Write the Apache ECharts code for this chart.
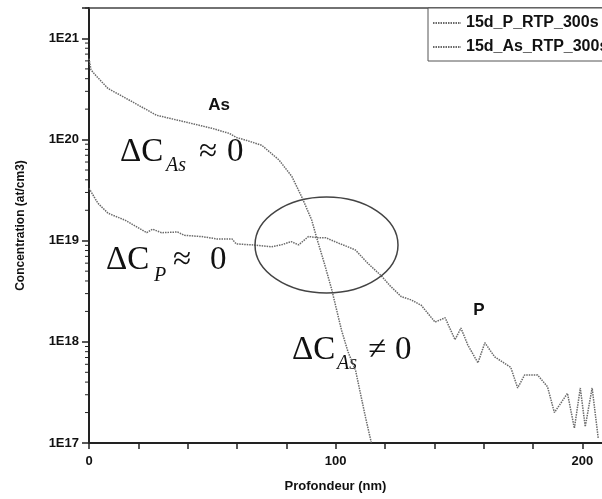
<!DOCTYPE html>
<html>
<head>
<meta charset="utf-8">
<script src="https://cdn.jsdelivr.net/npm/echarts@6/dist/echarts.min.js"></script>
<style>
  html, body { margin: 0; padding: 0; background: #fff; }
  #chart { width: 602px; height: 499px; }
</style>
</head>
<body>
<div id="chart"></div>
<script>
// profils SIMS
var seriesNames = ['15d_P_RTP_300s', '15d_As_RTP_300s'];

var pDepth = [0, 3.6, 7.7, 14.5, 23.4, 25.8, 29.4, 35.9, 38.7, 45.6, 52, 58, 59.7, 66, 74, 78, 82, 85, 89, 93, 96,
  101, 105, 108, 113, 118.5, 122, 126.6, 130.6, 134.7, 140.3, 144.4, 148.4, 150.8, 153.6, 157.7, 160.5, 164.5,
  171, 173.8, 176.6, 181.9, 185.9, 188.7, 194, 196.8, 199.2, 201.2, 204, 206.5];
var pConc = [3.3e19, 2.35e19, 1.87e19, 1.6e19, 1.2e19, 1.3e19, 1.2e19, 1.22e19, 1.13e19, 1.1e19, 1.04e19, 1.04e19, 9.3e18,
  9.1e18, 8.7e18, 9.1e18, 9.8e18, 9.1e18, 1.1e19, 1.07e19, 1.07e19,
  9.5e18, 8.7e18, 8.1e18, 6e18, 4.5e18, 3.6e18, 2.8e18, 2.6e18, 2.3e18, 1.57e18, 1.73e18, 1.05e18, 1.37e18, 9.3e17, 6.2e17, 9.8e17, 7.1e17,
  5.6e17, 3.5e17, 4.7e17, 4.7e17, 3.6e17, 2e17, 3.1e17, 1.4e17, 3.5e17, 1.45e17, 3.5e17, 1.1e17];

var asDepth = [0, 0.8, 2.4, 4.4, 7.7, 14.5, 27.4, 38.7, 50, 56.9, 59.7, 64, 70, 77, 82.3, 86.3, 90.3, 92.3, 95.4,
  98.4, 102.4, 105, 108.1, 112.1, 114.5];
var asConc = [6.3e20, 4.9e20, 4.4e20, 3.9e20, 3.2e20, 2.6e20, 1.74e20, 1.5e20, 1.29e20, 1.15e20, 1.05e20, 9.8e19, 8.8e19, 6.3e19,
  4.3e19, 2.7e19, 1.6e19, 1.07e19, 6e18, 3.3e18, 1.3e18, 8e17, 5.2e17, 1.8e17, 1e17];

var xTickLabels = [0, 100, 200];

function pairs(xs, ys) {
  var out = [];
  for (var i = 0; i < xs.length; i++) {
    out.push([xs[i], ys[i]]);
  }
  return out;
}

// petites graduations logarithmiques (2..9 par decade)
var minorTicks = [];
for (var e = 17; e <= 21; e++) {
  for (var m = 2; m <= 9; m++) {
    var v = m * Math.pow(10, e);
    if (v <= 2e21) minorTicks.push([0, v]);
  }
}

var lineColor = '#6a6a6a';
var serif = '"Liberation Serif", "DejaVu Serif", serif';
var sans = '"Liberation Sans", Arial, sans-serif';

var option = {
  animation: false,
  textStyle: { fontFamily: sans },
  grid: { left: 89, top: 8, right: 0, bottom: 56, containLabel: false },
  legend: {
    orient: 'vertical',
    left: 428,
    top: 8,
    data: seriesNames,
    itemWidth: 28,
    itemHeight: 10,
    itemGap: 8,
    padding: [7, 6, 6, 4],
    borderColor: '#555',
    borderWidth: 1,
    backgroundColor: '#fff',
    itemStyle: { color: 'rgba(0,0,0,0)', borderWidth: 0 },
    textStyle: { fontFamily: sans, fontWeight: 'bold', fontSize: 16, color: '#111' }
  },
  xAxis: [{
    type: 'value',
    min: 0,
    max: 208,
    interval: 20,
    name: 'Profondeur (nm)',
    nameLocation: 'middle',
    nameGap: 37,
    nameTextStyle: { fontWeight: 'bold', fontSize: 13, color: '#111', padding: [0, 20, 0, 0] },
    axisLine: { lineStyle: { color: '#222', width: 2 } },
    axisTick: { inside: false, length: 6, lineStyle: { color: '#222', width: 1.5 } },
    axisLabel: {
      fontWeight: 'bold', fontSize: 13, color: '#111', margin: 12,
      showMaxLabel: false,
      formatter: function (v) { return xTickLabels.indexOf(v) >= 0 ? String(v) : ''; }
    },
    splitLine: { show: false }
  }, {
    type: 'value',
    position: 'top',
    min: 0,
    max: 208,
    axisLine: { onZero: false, lineStyle: { color: '#444', width: 1.5 } },
    axisTick: { show: false },
    axisLabel: { show: false },
    splitLine: { show: false }
  }],
  yAxis: {
    type: 'log',
    logBase: 10,
    min: 1e17,
    max: 2e21,
    name: 'Concentration (at/cm3)',
    nameLocation: 'middle',
    nameGap: 62,
    nameTextStyle: { fontWeight: 'bold', fontSize: 12, color: '#111' },
    axisLine: { lineStyle: { color: '#222', width: 2 } },
    axisTick: { inside: false, length: 7, lineStyle: { color: '#222', width: 1.5 } },
    axisLabel: {
      fontWeight: 'bold', fontSize: 13, color: '#111', margin: 10,
      formatter: function (v) {
        var p = Math.log10(v);
        if (Math.abs(p - Math.round(p)) > 1e-6) return '';
        return '1E' + Math.round(p);
      }
    },
    splitLine: { show: false }
  },
  series: [{
    name: seriesNames[0],
    type: 'line',
    symbol: 'none',
    data: pairs(pDepth, pConc),
    lineStyle: { color: lineColor, width: 1.5, type: [1.5, 1] },
    itemStyle: { color: lineColor }
  }, {
    name: seriesNames[1],
    type: 'line',
    symbol: 'none',
    data: pairs(asDepth, asConc),
    lineStyle: { color: lineColor, width: 1.5, type: [1.5, 1] },
    itemStyle: { color: lineColor }
  }, {
    type: 'custom',
    silent: true,
    clip: false,
    data: minorTicks,
    renderItem: function (params, api) {
      var p = api.coord([0, api.value(1)]);
      return {
        type: 'line',
        shape: { x1: p[0] - 4, y1: p[1], x2: p[0], y2: p[1] },
        style: { stroke: '#222', lineWidth: 1 }
      };
    }
  }],
  graphic: [
    { type: 'ellipse', shape: { cx: 326.5, cy: 245, rx: 71.5, ry: 48 },
      style: { fill: null, stroke: '#444', lineWidth: 1.5 }, z: 10 },
    { type: 'text', x: 219, y: 105, style: { text: 'As', font: 'bold 17px ' + sans, fill: '#111', align: 'center', verticalAlign: 'middle' } },
    { type: 'text', x: 479, y: 310, style: { text: 'P', font: 'bold 17px ' + sans, fill: '#111', align: 'center', verticalAlign: 'middle' } },

    { type: 'text', x: 120, y: 169, style: { text: 'ΔC', font: '33px ' + serif, fill: '#111', verticalAlign: 'bottom' } },
    { type: 'text', x: 166, y: 176, style: { text: 'As', font: 'italic 20px ' + serif, fill: '#111', verticalAlign: 'bottom' } },
    { type: 'text', x: 199, y: 169, style: { text: '≈', font: '33px ' + serif, fill: '#111', verticalAlign: 'bottom' } },
    { type: 'text', x: 227, y: 169, style: { text: '0', font: '33px ' + serif, fill: '#111', verticalAlign: 'bottom' } },

    { type: 'text', x: 106, y: 277, style: { text: 'ΔC', font: '33px ' + serif, fill: '#111', verticalAlign: 'bottom' } },
    { type: 'text', x: 154, y: 286, style: { text: 'P', font: 'italic 20px ' + serif, fill: '#111', verticalAlign: 'bottom' } },
    { type: 'text', x: 173, y: 277, style: { text: '≈', font: '33px ' + serif, fill: '#111', verticalAlign: 'bottom' } },
    { type: 'text', x: 210, y: 277, style: { text: '0', font: '33px ' + serif, fill: '#111', verticalAlign: 'bottom' } },

    { type: 'text', x: 292, y: 367, style: { text: 'ΔC', font: '33px ' + serif, fill: '#111', verticalAlign: 'bottom' } },
    { type: 'text', x: 337, y: 374, style: { text: 'As', font: 'italic 20px ' + serif, fill: '#111', verticalAlign: 'bottom' } },
    { type: 'text', x: 368, y: 367, style: { text: '≠', font: '33px ' + serif, fill: '#111', verticalAlign: 'bottom' } },
    { type: 'text', x: 395, y: 367, style: { text: '0', font: '33px ' + serif, fill: '#111', verticalAlign: 'bottom' } }
  ]
};

var chart = echarts.init(document.getElementById('chart'));
chart.setOption(option);
</script>
</body>
</html>
